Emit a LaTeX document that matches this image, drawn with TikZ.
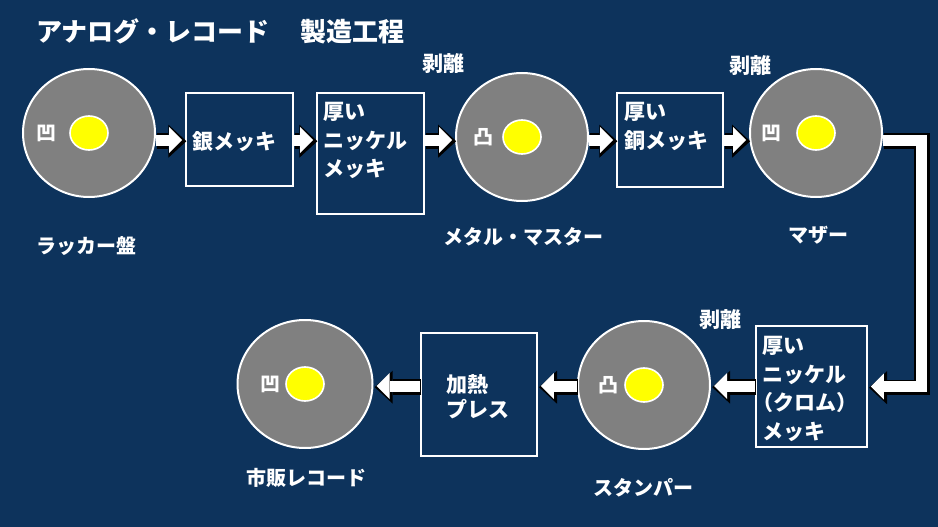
\documentclass[tikz,border=0pt]{standalone}
\usepackage{fontspec}
\setmainfont{Noto Sans CJK JP}
\usetikzlibrary{shapes.geometric, arrows.meta, positioning}

\definecolor{navy}{RGB}{13,51,92}
\definecolor{discgray}{RGB}{128,128,128}
\definecolor{holeyellow}{RGB}{255,255,0}

\tikzset{
  disc/.style={ellipse, draw=white, line width=2pt, fill=discgray,
    minimum width=132pt, minimum height=128pt, inner sep=0pt},
  hole/.style={ellipse, draw=white, line width=1.6pt, fill=holeyellow,
    minimum width=38pt, minimum height=34pt, inner sep=0pt},
  relief/.style={text=white, inner sep=0pt, font=\bfseries\fontsize{20}{20}\selectfont},
  procbox/.style={draw=white, line width=1.6pt, inner sep=0pt},
  boxtext/.style={anchor=north west, align=left, text=white, inner sep=0pt,
    font=\bfseries\fontsize{21}{28.5}\selectfont},
  caption/.style={text=white, inner sep=0pt, font=\bfseries\fontsize{20}{20}\selectfont},
  peel/.style={caption, font=\bfseries\fontsize{21}{21}\selectfont},
  flow/.style={white, line width=11pt, line join=miter, shorten >=3pt,
    -{Triangle[length=13pt, width=26pt, line width=0pt]},
    preaction={draw=black, line width=15.5pt, shorten >=0pt,
      -{Triangle[length=18pt, width=33pt, line width=0pt]},
      transform canvas={shift={(1.2pt,-1.2pt)}}}}
}

\begin{document}
\begin{tikzpicture}[x=1pt, y=-1pt]
  \fill[navy] (0,0) rectangle (938,527);
  \useasboundingbox (0,0) rectangle (938,527);

  \node (title) [anchor=west, text=white, inner sep=0pt,
    font=\bfseries\fontsize{26}{26}\selectfont] at (36,31)
    {アナログ・レコード\hspace{1.2em}製造工程};

  \coordinate (row1) at (0,140);
  \coordinate (row2) at (0,386);

  % upper row
  \node (lacquer) [disc] at (89,133) {};
  \node (lacquerhole) [hole] at (lacquer) {};
  \node (lacquerpit) [relief, left=13pt of lacquerhole] {凹};
  \node (lacquername) [caption] at (86,246) {ラッカー盤};

  \node (silver) [procbox, minimum width=107pt, minimum height=93pt,
    label={[boxtext, xshift=7pt, yshift=-39pt]north west:銀メッキ}] at (239.5,139.5) {};
  \node (nickel) [procbox, minimum width=107pt, minimum height=121pt,
    label={[boxtext, xshift=7pt, yshift=-10pt]north west:厚い\\ニッケル\\メッキ}] at (370.5,153.5) {};

  \node (metal) [disc] at (522,137) {};
  \node (metalhole) [hole] at (metal) {};
  \node (metalbump) [relief, left=9pt of metalhole] {凸};
  \node (metalname) [caption] at (523,237) {メタル・マスター};
  \node (peelmetal) [peel] at (443,64) {剥離};

  \node (copper) [procbox, minimum width=106pt, minimum height=94pt,
    label={[boxtext, xshift=8pt, yshift=-10pt]north west:厚い\\銅メッキ}] at (670,140) {};

  \node (mother) [disc] at (816,133) {};
  \node (motherhole) [hole] at (mother) {};
  \node (motherpit) [relief, left=15pt of motherhole] {凹};
  \node (mothername) [caption] at (818,235) {マザー};
  \node (peelmother) [peel] at (750,66) {剥離};

  % lower row
  \node (chrome) [procbox, minimum width=111pt, minimum height=121pt,
    label={[boxtext, xshift=7pt, yshift=-11pt]north west:厚い\\ニッケル\\\hspace{-0.45em}（クロム）\\メッキ}] at (811.5,386.5) {};

  \node (stamper) [disc] at (644,385) {};
  \node (stamperhole) [hole] at (stamper) {};
  \node (stamperbump) [relief, left=6pt of stamperhole] {凸};
  \node (stampername) [caption] at (643,488) {スタンパー};
  \node (peelstamper) [peel] at (720,320) {剥離};

  \node (press) [procbox, minimum width=116pt, minimum height=123pt,
    label={[boxtext, xshift=26pt, yshift=-42pt, font=\bfseries\fontsize{21}{25}\selectfont]north west:加熱\\プレス}] at (479,394.5) {};

  \node (market) [disc, minimum width=135pt] at (305,384) {};
  \node (markethole) [hole] at (market) {};
  \node (marketpit) [relief, left=5pt of markethole] {凹};
  \node (marketname) [caption] at (306,478) {市販レコード};

  % connectors
  \draw[flow] (lacquer.east |- row1) -- (silver.west |- row1);
  \draw[flow] (silver.east |- row1) -- (nickel.west |- row1);
  \draw[flow] (nickel.east |- row1) -- (metal.west |- row1);
  \draw[flow] (metal.east |- row1) -- (copper.west |- row1);
  \draw[flow] (copper.east |- row1) -- (mother.west |- row1);
  \coordinate (bend) at (921,140);
  \draw[flow] (mother.east |- row1) -- (bend) |- (chrome.east);
  \draw[flow] (chrome.west |- row2) -- (stamper.east |- row2);
  \draw[flow] (stamper.west |- row2) -- (press.east |- row2);
  \draw[flow] (press.west |- row2) -- (market.east |- row2);
\end{tikzpicture}
\end{document}
